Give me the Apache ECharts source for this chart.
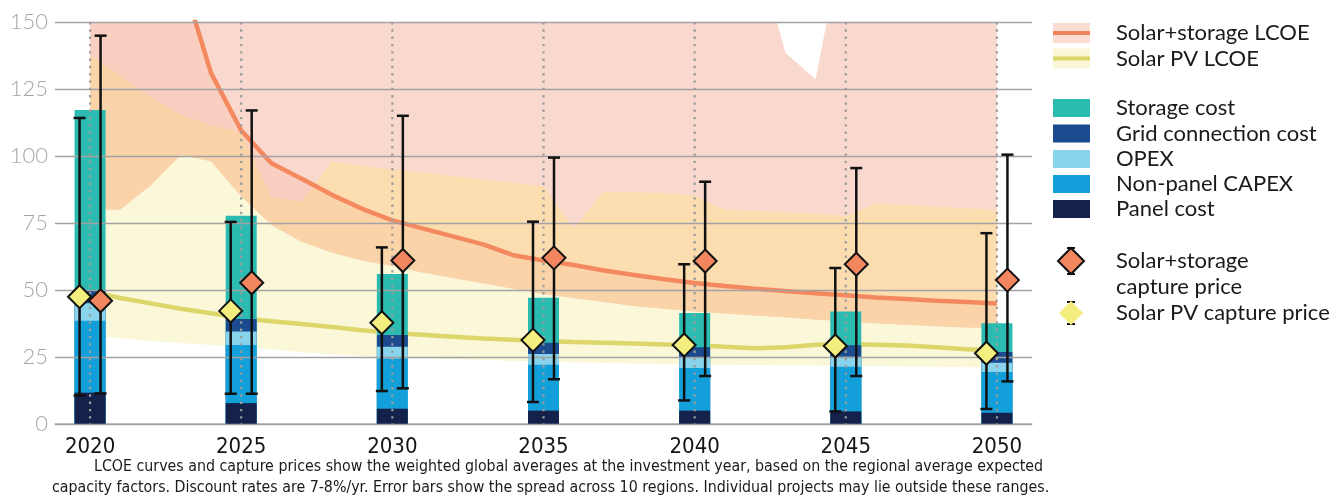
<!DOCTYPE html>
<html>
<head>
<meta charset="utf-8">
<script src="https://cdn.jsdelivr.net/npm/echarts@6/dist/echarts.min.js"></script>
<style>
  html, body { margin: 0; padding: 0; background: #fff; }
  #chart { width: 1340px; height: 496px; }
</style>
</head>
<body>
<div id="chart"></div>
<script>
// investment years (bars, capture prices)
const years = [2020, 2025, 2030, 2035, 2040, 2045, 2050];

// cost stack, USD/MWh
const panelCost = [11.7, 7.8, 5.7, 5.0, 5.0, 4.7, 4.2];
const nonPanelCapex = [26.8, 21.7, 18.7, 17.1, 15.9, 16.7, 15.2];
const opex = [6.6, 5.0, 4.4, 4.0, 4.0, 3.7, 3.5];
const gridCost = [4.9, 4.7, 4.4, 4.2, 3.7, 4.3, 4.0];
const storageCost = [67.2, 38.5, 22.8, 16.8, 12.8, 12.6, 10.7];

// capture prices with regional spread
const pvCapture = [47.5, 42.2, 37.8, 31.3, 29.5, 29.1, 26.4];
const pvCaptureLow = [10.6, 11.3, 12.3, 8.2, 8.8, 4.7, 5.6];
const pvCaptureHigh = [114.2, 75.4, 65.9, 75.5, 59.6, 58.2, 71.2];
const ssCapture = [46, 52.7, 61, 62, 60.8, 59.6, 53.7];
const ssCaptureLow = [11.4, 11.3, 13.3, 16.7, 17.9, 17.9, 15.9];
const ssCaptureHigh = [144.9, 117, 115, 99.4, 90.4, 95.5, 100.5];

// yearly LCOE curves and ranges
const lcoeYears = [2020, 2021, 2022, 2023, 2024, 2025, 2026, 2027, 2028, 2029, 2030,
  2031, 2032, 2033, 2034, 2035, 2036, 2037, 2038, 2039, 2040,
  2041, 2042, 2043, 2044, 2045, 2046, 2047, 2048, 2049, 2050];
const ssLcoe = [260, 225, 195, 168, 131, 109.5, 97.3, 91.5, 85.5, 80.3, 76,
  73, 70, 67, 63, 61, 59.3, 57.3, 55.6, 54, 52.6,
  51.5, 50.5, 49.6, 48.8, 48, 47.2, 46.6, 46, 45.5, 45];
const pvLcoe = [49.5, 47, 45, 43, 41.3, 39.5, 38.3, 37.3, 36.2, 35, 34,
  33.3, 32.6, 31.9, 31.4, 31, 30.6, 30.3, 30, 29.7, 29.4,
  28.8, 28.3, 28.6, 29.6, 29.8, 29.6, 29.3, 28.6, 27.9, 27.4];
const ssRangeLow = [80, 80, 89, 100.4, 98, 85, 74.3, 68, 64, 61, 59,
  56.5, 54.5, 52.5, 50.5, 48.5, 47, 45.5, 44, 43, 42,
  41.2, 40.5, 39.8, 39, 38.3, 37.6, 37, 36.5, 36, 35.7];
const ssRangeHigh = [200, 200, 200, 200, 200, 200, 200, 200, 200, 200, 200,
  200, 200, 200, 200, 200, 200, 200, 200, 200, 200,
  200, 180, 138.5, 128.6, 186, 200, 200, 200, 200, 200];
const pvRangeLow = [33, 32, 31, 30.2, 29.5, 28.8, 27.8, 26.8, 26, 25.4, 25,
  24.6, 24.2, 23.9, 23.6, 23.3, 23, 22.8, 22.6, 22.4, 22.2,
  22.1, 22, 21.9, 21.8, 21.7, 21.6, 21.5, 21.4, 21.2, 21];
const pvRangeHigh = [137.7, 130, 122, 115.5, 111.5, 109, 84.5, 83, 98, 96.5, 95,
  93.8, 92.5, 91.2, 90, 88.6, 73, 86.8, 86.5, 86.2, 85.3,
  80, 79.5, 79, 78.5, 77.6, 82.3, 81.7, 81.1, 80.5, 79.9];

const yTicks = [0, 25, 50, 75, 100, 125, 150];

const DODGE = 10.5; // px between the two capture-price markers and the bar centre

const chart = echarts.init(document.getElementById('chart'));

// a filled range between two yearly curves, drawn as one polygon
function band(lower, upper, color) {
  return {
    type: 'custom', z: 1, silent: true, clip: true,
    data: [[lcoeYears[0], lower[0]]],
    renderItem: function (params, api) {
      const pts = [];
      for (let i = 0; i < lcoeYears.length; i++) pts.push(api.coord([lcoeYears[i], upper[i]]));
      for (let i = lcoeYears.length - 1; i >= 0; i--) pts.push(api.coord([lcoeYears[i], lower[i]]));
      return { type: 'polygon', shape: { points: pts }, style: { fill: color } };
    }
  };
}

// bars overlap; each one runs from 0 to the running total of the stack
const stackOrder = [
  ['Panel cost', panelCost, '#14214B'],
  ['Non-panel CAPEX', nonPanelCapex, '#13A0DA'],
  ['OPEX', opex, '#88D4EC'],
  ['Grid connection cost', gridCost, '#1B4A8E'],
  ['Storage cost', storageCost, '#2BBBB1']
];
const running = years.map(() => 0);
const barList = stackOrder.map(function (d) {
  const tops = d[1].map((v, i) => (running[i] += v));
  return {
    name: d[0], type: 'bar', barWidth: 31, barGap: '-100%', z: 2,
    itemStyle: { color: d[2] },
    data: years.map((y, i) => [y, tops[i]])
  };
}).reverse();

function errorSeries(low, high, dx) {
  return {
    type: 'custom', z: 5, silent: true,
    data: years.map((y, i) => [y, low[i], high[i]]),
    renderItem: function (params, api) {
      const p1 = api.coord([api.value(0), api.value(1)]);
      const p2 = api.coord([api.value(0), api.value(2)]);
      const cx = p1[0] + dx;
      const st = { stroke: '#111', lineWidth: 2.5 };
      return {
        type: 'group',
        children: [
          { type: 'line', shape: { x1: cx, y1: p1[1], x2: cx, y2: p2[1] }, style: st },
          { type: 'line', shape: { x1: cx - 6, y1: p1[1], x2: cx + 6, y2: p1[1] }, style: st },
          { type: 'line', shape: { x1: cx - 6, y1: p2[1], x2: cx + 6, y2: p2[1] }, style: st }
        ]
      };
    }
  };
}

// legend drawn by hand (three groups with mixed swatches)
const LX = 1053, TX = 1116;
const legendFont = { fontSize: 22, fontFamily: 'Lato, "Open Sans", sans-serif', fill: '#1a1a1a', verticalAlign: 'middle' };
const legend = [];
function legendText(text, y) {
  legend.push({ type: 'text', x: TX, y: y, style: Object.assign({ text: text }, legendFont) });
}
legend.push({ type: 'rect', shape: { x: LX, y: 23, width: 37, height: 20 }, style: { fill: '#FCDDD4' } });
legend.push({ type: 'line', shape: { x1: LX, y1: 33, x2: LX + 37, y2: 33 }, style: { stroke: '#F0825C', lineWidth: 4 } });
legendText('Solar+storage LCOE', 33);
legend.push({ type: 'rect', shape: { x: LX, y: 48.5, width: 37, height: 20 }, style: { fill: '#FAF7D8' } });
legend.push({ type: 'line', shape: { x1: LX, y1: 58.5, x2: LX + 37, y2: 58.5 }, style: { stroke: '#DDD66B', lineWidth: 4 } });
legendText('Solar PV LCOE', 58.5);
[
  ['Storage cost', '#2BBBB1', 108],
  ['Grid connection cost', '#1B4A8E', 133.5],
  ['OPEX', '#88D4EC', 159],
  ['Non-panel CAPEX', '#13A0DA', 184],
  ['Panel cost', '#14214B', 209]
].forEach(function (d) {
  legend.push({ type: 'rect', shape: { x: LX, y: d[2] - 9, width: 37, height: 18 }, style: { fill: d[1] } });
  legendText(d[0], d[2]);
});
legend.push({ type: 'line', shape: { x1: 1071, y1: 248, x2: 1071, y2: 274 }, style: { stroke: '#111', lineWidth: 2 } });
legend.push({ type: 'line', shape: { x1: 1067, y1: 248, x2: 1075, y2: 248 }, style: { stroke: '#111', lineWidth: 2 } });
legend.push({ type: 'line', shape: { x1: 1067, y1: 274, x2: 1075, y2: 274 }, style: { stroke: '#111', lineWidth: 2 } });
legend.push({ type: 'polygon', shape: { points: [[1071, 248], [1084, 261], [1071, 274], [1058, 261]] }, style: { fill: '#F2875F', stroke: '#111', lineWidth: 2 } });
legendText('Solar+storage', 261);
legendText('capture price', 287);
legend.push({ type: 'line', shape: { x1: 1071, y1: 302, x2: 1071, y2: 324 }, style: { stroke: '#111', lineWidth: 1.5, lineDash: [3, 3] } });
legend.push({ type: 'line', shape: { x1: 1067, y1: 302, x2: 1075, y2: 302 }, style: { stroke: '#111', lineWidth: 2 } });
legend.push({ type: 'line', shape: { x1: 1067, y1: 324, x2: 1075, y2: 324 }, style: { stroke: '#111', lineWidth: 2 } });
legend.push({ type: 'polygon', shape: { points: [[1071, 301], [1083, 313], [1071, 325], [1059, 313]] }, style: { fill: '#F4EE7E' } });
legendText('Solar PV capture price', 313);

// footnote
const noteFont = { fontSize: 15.8, fontFamily: '"DejaVu Sans Condensed", "Liberation Sans Narrow", sans-serif', fill: '#1a1a1a', verticalAlign: 'middle' };
legend.push({ type: 'text', x: 94, y: 467, style: Object.assign({ text: 'LCOE curves and capture prices show the weighted global averages at the investment year, based on the regional average expected' }, noteFont) });
legend.push({ type: 'text', x: 52, y: 488, style: Object.assign({ text: 'capacity factors. Discount rates are 7-8%/yr. Error bars show the spread across 10 regions. Individual projects may lie outside these ranges.' }, noteFont) });

const option = {
  animation: false,
  grid: { left: 55, right: 308, top: 22, bottom: 72 },
  xAxis: {
    type: 'value', min: 2018.84, max: 2051.16,
    axisLine: { lineStyle: { color: '#B4B4B4', width: 1.5 } },
    axisTick: { show: false },
    splitLine: { show: false },
    axisLabel: {
      customValues: years, margin: 12, color: '#141414', fontSize: 22,
      fontFamily: '"DejaVu Sans Condensed", "Liberation Sans Narrow", sans-serif',
      formatter: v => String(v)
    }
  },
  yAxis: {
    type: 'value', min: 0, max: 150, interval: 25, z: 3,
    axisLine: { show: false }, axisTick: { show: false },
    splitLine: { lineStyle: { color: '#A2A2A2', width: 1.3 } },
    axisLabel: {
      margin: 7, color: '#A4A7AA', fontSize: 22,
      fontFamily: 'Lato, sans-serif', fontWeight: 300
    }
  },
  graphic: legend,
  series: [
    band(pvRangeLow, pvRangeHigh, '#FAF8D8'),
    band(ssRangeLow, ssRangeHigh, '#F9D8CE'),
    band(ssRangeLow, pvRangeHigh, '#FCDDB0'),
    band(ssRangeLow, ssLcoe, 'rgba(247,176,146,0.2)'),
    {
      name: 'Solar+storage LCOE', type: 'line', z: 1, symbol: 'none', silent: true,
      lineStyle: { color: '#F4895F', width: 4.5 },
      data: lcoeYears.map((y, i) => [y, ssLcoe[i]])
    },
    {
      name: 'Solar PV LCOE', type: 'line', z: 1, symbol: 'none', silent: true,
      lineStyle: { color: '#DDD66B', width: 4.5 },
      data: lcoeYears.map((y, i) => [y, pvLcoe[i]])
    }
  ].concat(barList, [
    {
      // dotted year guides
      type: 'custom', z: 4, silent: true,
      data: years.map(y => [y, 0]),
      renderItem: function (params, api) {
        const top = api.coord([api.value(0), yTicks[yTicks.length - 1]]);
        const bottom = api.coord([api.value(0), yTicks[0]]);
        return {
          type: 'line',
          shape: { x1: top[0], y1: top[1], x2: bottom[0], y2: bottom[1] },
          style: { stroke: '#9C9C9C', lineWidth: 2.2, lineDash: [2.4, 4.9] }
        };
      }
    },
    errorSeries(pvCaptureLow, pvCaptureHigh, -DODGE),
    errorSeries(ssCaptureLow, ssCaptureHigh, DODGE),
    {
      name: 'Solar PV capture price', type: 'scatter', z: 6, symbol: 'diamond',
      symbolSize: 23, symbolOffset: [-DODGE, 0],
      itemStyle: { color: '#F4EE7E', borderColor: '#111', borderWidth: 2, opacity: 1 },
      data: years.map((y, i) => [y, pvCapture[i]])
    },
    {
      name: 'Solar+storage capture price', type: 'scatter', z: 6, symbol: 'diamond',
      symbolSize: 23, symbolOffset: [DODGE, 0],
      itemStyle: { color: '#F2875F', borderColor: '#111', borderWidth: 2, opacity: 1 },
      data: years.map((y, i) => [y, ssCapture[i]])
    }
  ])
};

chart.setOption(option);
</script>
</body>
</html>
